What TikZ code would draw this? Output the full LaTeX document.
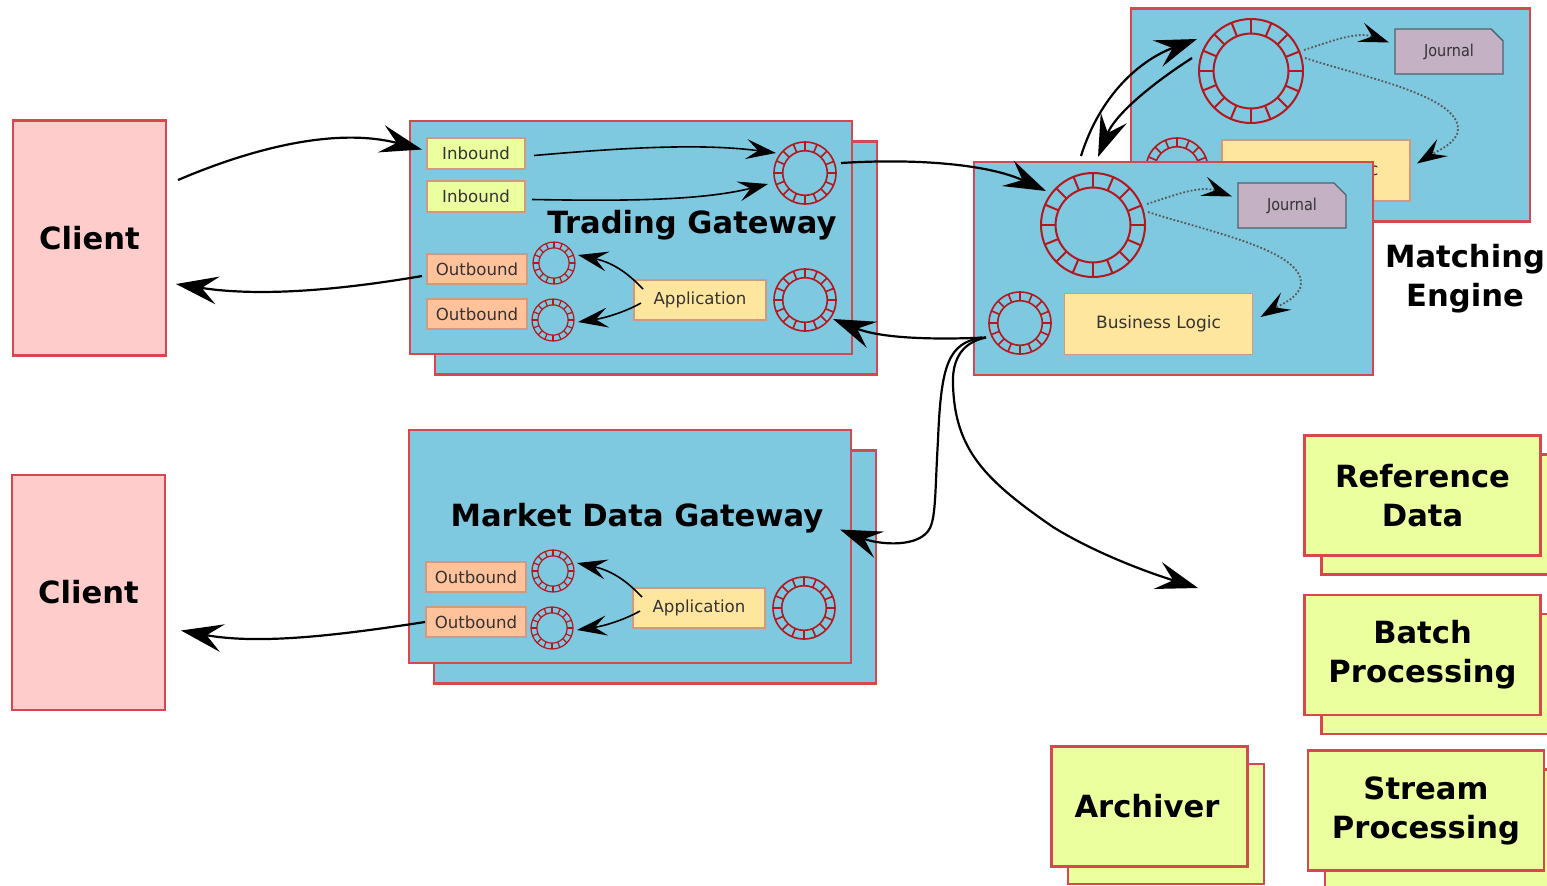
\documentclass[tikz,border=0pt]{standalone}
\usepackage{xcolor}
\usepackage{fontspec}
\usepackage{tikz}
\usetikzlibrary{arrows.meta}
\usetikzlibrary{calc}
\usetikzlibrary{shapes.misc}
\setmainfont{DejaVu Sans}
\newfontfamily\narrowfont[FakeStretch=0.88]{DejaVu Sans}

\definecolor{edgered}{HTML}{D4484E}
\definecolor{softedge}{HTML}{D09A80}
\definecolor{ringred}{HTML}{B3181E}
\definecolor{gwblue}{HTML}{7EC8E0}
\definecolor{clientpink}{HTML}{FFCCCC}
\definecolor{limeface}{HTML}{EBFF9F}
\definecolor{peachface}{HTML}{FFC29B}
\definecolor{sandface}{HTML}{FFE69F}
\definecolor{journalface}{HTML}{C4B1C4}
\definecolor{journaledge}{HTML}{4E626C}

% name, x, y, radius, line width
\newcommand{\ringbuf}[5]{
	\node[ring,minimum size=#4pt,line width=#5pt] (#1) at (#2,#3) {};
	\draw[ringred,line width=#5pt] (#1) circle [radius={0.72*#4}];
	\foreach \a in {0,22.5,...,337.5} {
		\draw[ringred,line width=#5pt] (#1.\a) -- ($(#1)!0.72!(#1.\a)$);
	}
}

\begin{document}
\begin{tikzpicture}[x=0.5pt,y=-0.5pt,thick]
			
			\tikzstyle{ring} = [circle,draw=ringred,inner sep=0pt,outer sep=0pt]
			\tikzstyle{panel} = [draw=edgered,line width=1.2pt,fill=gwblue,inner sep=0pt,outer sep=0pt]
			\tikzstyle{gwpanel} = [panel,minimum width=221pt,minimum height=116.5pt]
			\tikzstyle{mepanel} = [panel,minimum width=199.5pt,minimum height=106.5pt]
			\tikzstyle{client} = [panel,fill=clientpink,minimum width=76.5pt,minimum height=117.5pt]
			\tikzstyle{title} = [font=\fontsize{15.3}{19.5}\selectfont\bfseries,align=center]
			\tikzstyle{service} = [panel,title,fill=limeface,minimum width=118pt,minimum height=60pt]
			\tikzstyle{smallbox} = [draw=softedge,line width=0.7pt,inner sep=0pt,outer sep=0pt,font=\fontsize{8.3}{10}\selectfont,text=black!80]
			\tikzstyle{inbound} = [smallbox,fill=limeface,minimum width=49pt,minimum height=15.5pt]
			\tikzstyle{outbound} = [smallbox,fill=peachface,minimum width=50pt,minimum height=15pt]
			\tikzstyle{application} = [smallbox,fill=sandface,minimum width=66pt,minimum height=20pt]
			\tikzstyle{logic} = [smallbox,fill=sandface,minimum width=94pt,minimum height=30.5pt,font=\fontsize{8.5}{10}\selectfont]
			\tikzstyle{journal} = [chamfered rectangle,chamfered rectangle corners=north east,chamfered rectangle sep=3pt,draw=journaledge,line width=0.7pt,fill=journalface,inner sep=0pt,outer sep=0pt,minimum width=54pt,minimum height=22.5pt,font=\fontsize{8.2}{9}\narrowfont,text=black!80]
			\tikzstyle{bigflow} = [-{Stealth[length=21pt,width=14pt,inset=8pt]},line width=1.1pt]
			\tikzstyle{midflow} = [-{Stealth[length=15pt,width=10pt,inset=6pt]},line width=0.8pt]
			\tikzstyle{dotflow} = [-{Stealth[length=15pt,width=10pt,inset=6pt,black]},line width=0.9pt,densely dotted,black!65]
			
			\useasboundingbox (0,0) rectangle (1547,885);
			
			% clients
			\node[client,title] (clientA) at (89.5,238) {Client};
			\node[client,title] (clientB) at (88.5,592.5) {Client};
			
			% trading gateway
			\node[gwpanel] (tradeback) at (656,258) {};
			\node[gwpanel] (trade) at (631,237.5) {};
			\node[inbound] (inA) at (476,153.5) {Inbound};
			\node[inbound] (inB) at (476,196.5) {Inbound};
			\node[outbound] (outA) at (477,269) {Outbound};
			\node[outbound] (outB) at (477,314) {Outbound};
			\node[application] (app) at (700,300) {Application};
			\ringbuf{ringA}{554}{263}{21}{0.6}
			\ringbuf{ringB}{553}{320}{21}{0.6}
			\ringbuf{ringC}{805}{173}{31}{0.8}
			\ringbuf{ringD}{805}{300}{31}{0.8}
			\node[title] (tradetxt) at (692,225) {Trading Gateway};
			
			% market data gateway
			\node[gwpanel] (mdback) at (655,567) {};
			\node[gwpanel] (md) at (630,546.5) {};
			\node[outbound] (outC) at (476,577) {Outbound};
			\node[outbound] (outD) at (476,622) {Outbound};
			\node[application] (appB) at (699,608) {Application};
			\ringbuf{ringE}{553}{571}{21}{0.6}
			\ringbuf{ringF}{552}{628}{21}{0.6}
			\ringbuf{ringG}{804}{608}{31}{0.8}
			\node[title] (mdtxt) at (637,518) {Market Data Gateway};
			
			% matching engine, the standby one is partly hidden
			\node[mepanel] (meback) at (1330.5,115) {};
			\ringbuf{ringH}{1251}{71}{52}{1.0}
			\ringbuf{ringI}{1177}{169}{31}{0.8}
			\node[journal] (journalB) at (1449,51.5) {Journal};
			\node[logic] (logicB) at (1316,170.5) {Business Logic};
			\node[mepanel] (me) at (1173.5,268.5) {};
			\ringbuf{ringJ}{1093}{225}{52}{1.0}
			\ringbuf{ringK}{1020}{323}{31}{0.8}
			\node[journal] (journalA) at (1292,205.5) {Journal};
			\node[logic] (logicA) at (1158.5,324) {Business Logic};
			\node[title] (metxt) at (1465,279) {Matching\\Engine};
			
			% the other services
			\node[service] (refback) at (1439.5,514.5) {};
			\node[service] (ref) at (1422.5,495.5) {Reference\\Data};
			\node[service] (batchback) at (1439.5,674) {};
			\node[service] (batch) at (1422.5,655) {Batch\\Processing};
			\node[service] (streamback) at (1443,829.5) {};
			\node[service] (stream) at (1426,810.5) {Stream\\Processing};
			\node[service,minimum width=98pt] (archback) at (1166,824) {};
			\node[service,minimum width=98pt] (arch) at (1149.5,806.5) {\hspace*{-2.5pt}Archiver};
			
			\coordinate (fanout) at (1198,588);
			
			% connectors
			\draw[bigflow] ([shift={(12,-58)}]clientA.east) .. controls (260,145) and (340,128) .. ([shift={(-5,-4)}]inA.west);
			\draw[bigflow] ([shift={(-5,7)}]outA.west) .. controls (340,290) and (260,297) .. ([shift={(10,46)}]clientA.east);
			\draw[bigflow] ([shift={(-1,0)}]outD.west) .. controls (340,635) and (260,645) .. ([shift={(16,38)}]clientB.east);
			\draw[midflow] ([shift={(9,2)}]inA.east) .. controls (620,148) and (700,143) .. ([shift={(-29,-20)}]ringC.center);
			\draw[midflow] ([shift={(7,3)}]inB.east) .. controls (620,201) and (700,201) .. ([shift={(-37,11)}]ringC.center);
			\draw[midflow] ([shift={(9,-11)}]app.west) .. controls (625,270) and (610,262) .. ([shift={(24,-8)}]ringA.center);
			\draw[midflow] ([shift={(7,3)}]app.west) .. controls (625,312) and (605,318) .. ([shift={(25,2)}]ringB.center);
			\draw[midflow] ([shift={(9,-11)}]appB.west) .. controls (624,578) and (609,570) .. ([shift={(24,-8)}]ringE.center);
			\draw[midflow] ([shift={(7,3)}]appB.west) .. controls (624,620) and (604,626) .. ([shift={(25,2)}]ringF.center);
			\draw[bigflow] ([shift={(36,-10)}]ringC.center) .. controls (920,158) and (990,165) .. ([shift={(-47,-34)}]ringJ.center);
			\draw[bigflow] ([shift={(12,69)}]me.west) .. controls (930,340) and (880,338) .. ([shift={(28,19)}]ringD.center);
			\draw[bigflow] ([shift={(8,69)}]me.west) .. controls (948,343) and (941,365) .. (938,440) .. controls (935,490) and (936,515) .. (930,528) .. controls (920,548) and (880,545) .. ([shift={(-11,-17)}]md.east);
			\draw[bigflow] ([shift={(12,69)}]me.west) .. controls (958,343) and (952,365) .. (953,385) .. controls (955,450) and (985,480) .. (1053,527) .. controls (1090,550) and (1140,570) .. (fanout);
			\draw[bigflow] ([shift={(-12,-69)}]ringJ.center) .. controls (1100,95) and (1140,60) .. ([shift={(-54,-32)}]ringH.center);
			\draw[bigflow] ([shift={(-59,-13)}]ringH.center) .. controls (1150,85) and (1115,115) .. ([shift={(5,-68)}]ringJ.center);
			\draw[dotflow] ([shift={(54,-21)}]ringJ.center) .. controls (1175,195) and (1200,185) .. ([shift={(-6,-9)}]journalA.west);
			\draw[dotflow] ([shift={(55,-13)}]ringJ.center) .. controls (1210,232) and (1301,250) .. (1301,283) .. controls (1301,297) and (1280,305) .. ([shift={(8,-7)}]logicA.east);
			\draw[dotflow] ([shift={(53,-21)}]ringH.center) .. controls (1332,41) and (1357,31) .. ([shift={(-6,-9)}]journalB.west);
			\draw[dotflow] ([shift={(54,-13)}]ringH.center) .. controls (1367,78) and (1458,96) .. (1458,129) .. controls (1458,143) and (1437,151) .. ([shift={(7,-7)}]logicB.east);
			
		\end{tikzpicture}
\end{document}
